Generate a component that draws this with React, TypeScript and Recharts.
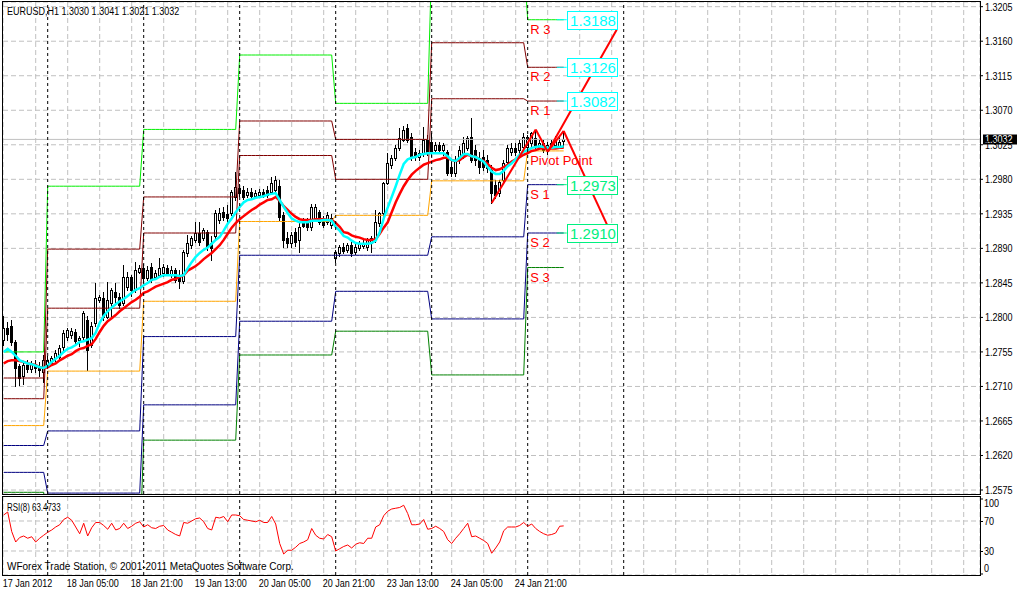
import React from "react";
import {
  Bar,
  CartesianGrid,
  ComposedChart,
  Line,
  ReferenceDot,
  ReferenceLine,
  XAxis,
  YAxis,
} from "recharts";

const SANS = "'Liberation Sans', Arial, sans-serif";
const SQUEEZE = 0.82; // terminal font is narrower than Arial

// EURUSD H1, 17 Jan 13:00 .. 25 Jan 09:00 (bar index 0..140)
const opens = [
  1.2771, 1.2786, 1.2789, 1.2768, 1.2737, 1.2724, 1.2738, 1.2733, 1.2739, 1.2734,
  1.2729, 1.2737, 1.274, 1.2747, 1.2748, 1.2761, 1.2774, 1.2777, 1.2781, 1.2771,
  1.2774, 1.2797, 1.2764, 1.2793, 1.2823, 1.2825, 1.2801, 1.2819, 1.2833, 1.2827,
  1.2819, 1.284, 1.2853, 1.2836, 1.2859, 1.2864, 1.2851, 1.2866, 1.2853, 1.2855,
  1.2858, 1.2864, 1.2855, 1.2862, 1.2854, 1.2848, 1.2884, 1.2894, 1.2901, 1.291,
  1.2904, 1.2911, 1.2897, 1.2906, 1.2927, 1.2937, 1.2935, 1.2936, 1.2957, 1.2969,
  1.2966, 1.296, 1.2963, 1.2958, 1.296, 1.2963, 1.2966, 1.2963, 1.2966, 1.2971,
  1.2933, 1.2904, 1.2897, 1.2911, 1.2901, 1.2924, 1.2924, 1.2918, 1.2929, 1.2937,
  1.2927, 1.2924, 1.292, 1.2878, 1.2884, 1.2892, 1.2888, 1.2894, 1.2885, 1.2891,
  1.2893, 1.2892, 1.2897, 1.2901, 1.2923, 1.2936, 1.2975, 1.2999, 1.3008, 1.3021,
  1.3031, 1.3047, 1.3035, 1.3016, 1.3009, 1.3014, 1.3031, 1.3029, 1.3018, 1.3025,
  1.3018, 1.3016, 1.2996, 1.2988, 1.3005, 1.3012, 1.3021, 1.3035, 1.3018, 1.3008,
  1.3009, 1.3005, 1.2992, 1.2973, 1.2962, 1.2979, 1.3003, 1.3016, 1.3021, 1.3018,
  1.3022, 1.3022, 1.3027, 1.3034, 1.3022, 1.3027, 1.3018, 1.3025, 1.3025, 1.3022,
  1.303,
];
const highs = [
  1.2802, 1.2794, 1.2797, 1.2771, 1.2739, 1.2742, 1.2744, 1.2743, 1.2744, 1.2742,
  1.2751, 1.275, 1.275, 1.2758, 1.2764, 1.2784, 1.2786, 1.2786, 1.2785, 1.2776,
  1.2808, 1.2802, 1.2794, 1.2845, 1.2829, 1.2833, 1.2846, 1.2838, 1.2845, 1.2832,
  1.2868, 1.2859, 1.2855, 1.2872, 1.2868, 1.287, 1.2867, 1.2871, 1.2862, 1.2878,
  1.287, 1.2868, 1.2867, 1.2864, 1.2862, 1.2888, 1.2907, 1.2906, 1.2924, 1.2924,
  1.2917, 1.2914, 1.2906, 1.294, 1.2943, 1.2944, 1.2947, 1.2966, 1.299, 1.2974,
  1.2971, 1.2969, 1.2969, 1.2966, 1.2967, 1.2967, 1.2971, 1.2983, 1.2984, 1.2979,
  1.2937, 1.2911, 1.2911, 1.2917, 1.2924, 1.2929, 1.2929, 1.2948, 1.2948, 1.294,
  1.2932, 1.2937, 1.2935, 1.2888, 1.2894, 1.2897, 1.2897, 1.2898, 1.2896, 1.29,
  1.2901, 1.2904, 1.2906, 1.294, 1.2937, 1.2977, 1.3014, 1.3012, 1.3025, 1.3047,
  1.3049, 1.3052, 1.304, 1.3021, 1.3018, 1.3048, 1.3038, 1.304, 1.3029, 1.3029,
  1.3027, 1.3018, 1.3005, 1.301, 1.3023, 1.3035, 1.3036, 1.306, 1.3025, 1.3016,
  1.3018, 1.3012, 1.2999, 1.2979, 1.2979, 1.3005, 1.3025, 1.3027, 1.3027, 1.3031,
  1.304, 1.3038, 1.3042, 1.3044, 1.3031, 1.3031, 1.3029, 1.3031, 1.3036, 1.3036,
  1.3041,
];
const lows = [
  1.2764, 1.2771, 1.2764, 1.2711, 1.2711, 1.2713, 1.2729, 1.2729, 1.2729, 1.2724,
  1.2716, 1.2734, 1.2738, 1.2744, 1.2744, 1.2758, 1.2771, 1.2773, 1.2767, 1.2763,
  1.2771, 1.2731, 1.2761, 1.2789, 1.282, 1.2797, 1.2799, 1.2802, 1.2816, 1.2813,
  1.2816, 1.2836, 1.2828, 1.2833, 1.2857, 1.2846, 1.2849, 1.2846, 1.285, 1.2853,
  1.2855, 1.2855, 1.2853, 1.2846, 1.2838, 1.2845, 1.288, 1.2891, 1.2898, 1.2894,
  1.2901, 1.2888, 1.2875, 1.2904, 1.2924, 1.2927, 1.2924, 1.2933, 1.2953, 1.2958,
  1.2954, 1.2957, 1.2956, 1.2956, 1.2957, 1.2956, 1.2957, 1.2961, 1.2963, 1.2927,
  1.2892, 1.2891, 1.2891, 1.2894, 1.2885, 1.2917, 1.2914, 1.2914, 1.2927, 1.2922,
  1.2918, 1.2922, 1.2917, 1.2872, 1.288, 1.2884, 1.2885, 1.288, 1.2883, 1.2888,
  1.2891, 1.2888, 1.2885, 1.2898, 1.2919, 1.2933, 1.2973, 1.2995, 1.3005, 1.3018,
  1.3029, 1.3029, 1.3005, 1.3005, 1.3005, 1.301, 1.3012, 1.301, 1.3016, 1.3016,
  1.3012, 1.2986, 1.2984, 1.2984, 1.3001, 1.3008, 1.3018, 1.3003, 1.2999, 1.2988,
  1.2992, 1.299, 1.2949, 1.2956, 1.2958, 1.2977, 1.2999, 1.3012, 1.3012, 1.3014,
  1.3018, 1.302, 1.3023, 1.3021, 1.302, 1.3016, 1.3014, 1.3021, 1.3021, 1.302,
  1.3021,
];
const closes = [
  1.2786, 1.2778, 1.2768, 1.2734, 1.2721, 1.2738, 1.2733, 1.2739, 1.2734, 1.2731,
  1.2744, 1.2744, 1.2747, 1.2754, 1.276, 1.278, 1.2784, 1.2782, 1.2769, 1.2773,
  1.2806, 1.2758, 1.2789, 1.2825, 1.2827, 1.2801, 1.2823, 1.2836, 1.2827, 1.2816,
  1.2853, 1.2853, 1.2836, 1.2862, 1.2864, 1.2851, 1.2862, 1.2849, 1.2858, 1.2864,
  1.2866, 1.2858, 1.2862, 1.2849, 1.2848, 1.2885, 1.2897, 1.2904, 1.291, 1.2898,
  1.2914, 1.2892, 1.2891, 1.2936, 1.2936, 1.2931, 1.2929, 1.2963, 1.297, 1.2962,
  1.2957, 1.2963, 1.2958, 1.2962, 1.2963, 1.296, 1.296, 1.2975, 1.2979, 1.2931,
  1.2901, 1.2897, 1.2907, 1.2898, 1.2918, 1.2919, 1.2918, 1.2944, 1.2944, 1.2924,
  1.292, 1.2933, 1.2929, 1.2885, 1.2892, 1.2887, 1.2894, 1.2884, 1.2892, 1.2897,
  1.2897, 1.2901, 1.2904, 1.2924, 1.2936, 1.2975, 1.3001, 1.3008, 1.3021, 1.3034,
  1.3044, 1.3031, 1.3009, 1.3009, 1.3014, 1.3031, 1.3014, 1.3016, 1.3025, 1.3018,
  1.3025, 1.2988, 1.2988, 1.3005, 1.3018, 1.3027, 1.3034, 1.3005, 1.3005, 1.2996,
  1.2996, 1.2995, 1.2962, 1.296, 1.2977, 1.3001, 1.3021, 1.3021, 1.3016, 1.3027,
  1.3035, 1.3035, 1.304, 1.3025, 1.3027, 1.3018, 1.3025, 1.3027, 1.3031, 1.3029,
  1.3032,
];
const fastMa = [
  1.2755, 1.2759, 1.2755, 1.275, 1.2744, 1.2742, 1.274, 1.2739, 1.2737, 1.2735,
  1.2734, 1.2737, 1.2742, 1.2746, 1.275, 1.2755, 1.2759, 1.2761, 1.2764, 1.2768,
  1.2769, 1.2771, 1.2773, 1.278, 1.2793, 1.2802, 1.2808, 1.2813, 1.2817, 1.2821,
  1.2824, 1.2828, 1.2832, 1.2836, 1.2838, 1.2842, 1.2845, 1.2849, 1.285, 1.2853,
  1.2855, 1.2855, 1.2855, 1.2855, 1.2854, 1.2855, 1.2864, 1.2872, 1.2879, 1.2884,
  1.2888, 1.2891, 1.2896, 1.2901, 1.2905, 1.2913, 1.2922, 1.2929, 1.2937, 1.2944,
  1.295, 1.2953, 1.2954, 1.2956, 1.2957, 1.2958, 1.296, 1.2961, 1.2962, 1.2953,
  1.2944, 1.2936, 1.2929, 1.2926, 1.2924, 1.2924, 1.2924, 1.2926, 1.2926, 1.2926,
  1.2927, 1.2927, 1.2926, 1.2918, 1.2913, 1.2906, 1.2904, 1.29, 1.2897, 1.2896,
  1.2896, 1.2896, 1.2897, 1.29, 1.2911, 1.2929, 1.2943, 1.2957, 1.2971, 1.2986,
  1.3, 1.3006, 1.3008, 1.3009, 1.3012, 1.3013, 1.3014, 1.3014, 1.3014, 1.3014,
  1.3014, 1.301, 1.3005, 1.3004, 1.3008, 1.3013, 1.3013, 1.301, 1.3009, 1.3006,
  1.3003, 1.2996, 1.299, 1.2987, 1.2987, 1.2991, 1.2997, 1.3001, 1.3006, 1.3012,
  1.3016, 1.3018, 1.3021, 1.3022, 1.3023, 1.3022, 1.3021, 1.3021, 1.3022, 1.3022,
  1.3023,
];
const slowMa = [
  1.274, 1.2743, 1.2744, 1.2744, 1.2743, 1.2742, 1.274, 1.2739, 1.2738, 1.2735,
  1.2734, 1.2735, 1.2738, 1.274, 1.2744, 1.2747, 1.275, 1.2752, 1.2756, 1.2759,
  1.276, 1.2763, 1.2765, 1.2772, 1.2781, 1.2789, 1.2795, 1.2799, 1.2803, 1.2808,
  1.2812, 1.2816, 1.282, 1.2823, 1.2827, 1.2832, 1.2834, 1.2837, 1.284, 1.2842,
  1.2844, 1.2846, 1.2849, 1.285, 1.2853, 1.2855, 1.2861, 1.2864, 1.2867, 1.2871,
  1.2876, 1.288, 1.2884, 1.2889, 1.2894, 1.2901, 1.2909, 1.2917, 1.2923, 1.2928,
  1.2932, 1.2936, 1.294, 1.2943, 1.2947, 1.295, 1.2953, 1.2954, 1.2957, 1.2952,
  1.2945, 1.294, 1.2935, 1.2931, 1.2928, 1.2927, 1.2927, 1.2927, 1.2928, 1.2928,
  1.2928, 1.2927, 1.2927, 1.2923, 1.2918, 1.2911, 1.291, 1.2907, 1.2905, 1.2904,
  1.2902, 1.2901, 1.2901, 1.2902, 1.2909, 1.2917, 1.2924, 1.2937, 1.295, 1.2961,
  1.2971, 1.2979, 1.2986, 1.2991, 1.2995, 1.2999, 1.3001, 1.3003, 1.3005, 1.3006,
  1.3008, 1.3008, 1.3005, 1.3004, 1.3005, 1.3009, 1.3012, 1.301, 1.3009, 1.3006,
  1.3004, 1.3, 1.2995, 1.2992, 1.2993, 1.2996, 1.2999, 1.3003, 1.3006, 1.3009,
  1.3012, 1.3014, 1.3017, 1.3018, 1.302, 1.302, 1.302, 1.302, 1.302, 1.3021,
  1.3021,
];
const rsi = [
  78, 82, 56, 42, 48, 50, 47, 49, 42, 47,
  51, 55, 58, 62, 65, 72, 75, 71, 62, 53,
  67, 50, 61, 68, 68, 64, 59, 67, 58, 60,
  67, 60, 63, 67, 69, 62, 65, 61, 60, 63,
  64, 58, 55, 52, 50, 68, 67, 70, 73, 74,
  69, 60, 58, 75, 74, 76, 69, 78, 78, 77,
  72, 71, 70, 69, 71, 68, 68, 76, 66, 40,
  26, 31, 31, 35, 40, 42, 45, 60, 51, 47,
  46, 52, 49, 30, 33, 36, 38, 34, 39, 41,
  40, 47, 47, 62, 65, 77, 83, 86, 87, 88,
  91, 80, 65, 65, 66, 72, 59, 60, 63, 60,
  56, 45, 40, 47, 53, 60, 67, 49, 50, 47,
  44, 40, 27, 34, 42, 57, 62, 62, 62, 64,
  68, 63, 66, 60, 56, 53, 51, 52, 54, 63,
  63.4733,
];

// daily pivot levels (first bar of each trading day)
const dayStarts = [0, 11, 35, 59, 83, 107, 131];
const r3 = [1.2755, 1.2971, 1.3045, 1.3142, 1.3079, 1.3266, 1.3188];
const r2 = [1.2721, 1.2889, 1.2957, 1.3056, 1.3032, 1.3158, 1.3126];
const r1 = [1.2694, 1.2812, 1.291, 1.3011, 1.298, 1.3085, 1.3082];
const pp = [1.2659, 1.273, 1.2821, 1.2925, 1.2933, 1.2978, 1.3017];
const s1 = [1.2633, 1.2652, 1.2775, 1.2881, 1.2881, 1.2905, 1.2973];
const s2 = [1.2598, 1.2571, 1.2686, 1.2795, 1.2834, 1.2798, 1.291];
const s3 = [1.2572, 1.2492, 1.264, 1.2751, 1.2782, 1.2725, 1.2865];

const zigzagBars = [122, 133, 136, 140, 151];
const zigzagPrices = [1.2949, 1.3045, 1.3016, 1.3043, 1.2919];
const projectionBars = [136, 153.25];
const projectionPrices = [1.3016, 1.3175];

const lastPrice = 1.3032;
const priceTicks = [
  1.2575, 1.262, 1.2665, 1.271, 1.2755, 1.28, 1.2845, 1.289, 1.2935, 1.298,
  1.3025, 1.307, 1.3115, 1.316, 1.3205,
];
const rsiTicks = [0, 30, 70, 100];
const rsiLevels = [30, 70];
const gridBars = [
  0, 8, 16, 24, 32, 40, 48, 56, 64, 72, 80, 88, 96, 104, 112, 120, 128, 136,
  144, 152, 160, 168, 176, 184, 192, 200, 208, 216, 224, 232, 240,
];
const separatorBars = [11, 35, 59, 83, 107, 131, 155];
const timeBars = [0, 16, 32, 48, 64, 80, 96, 112, 128];
const timeLabels = [
  "17 Jan 2012",
  "18 Jan 05:00",
  "18 Jan 21:00",
  "19 Jan 13:00",
  "20 Jan 05:00",
  "20 Jan 21:00",
  "23 Jan 13:00",
  "24 Jan 05:00",
  "24 Jan 21:00",
];

const X_DOMAIN: [number, number] = [-0.175, 244.075];
const PRICE_DOMAIN: [number, number] = [1.25698, 1.32111];
const RSI_DOMAIN: [number, number] = [-2, 103.33];

const levels = [
  { key: "r3", name: "R 3", values: r3, color: "#00ee00", box: "#00ffff" },
  { key: "r2", name: "R 2", values: r2, color: "#800000", box: "#00ffff" },
  { key: "r1", name: "R 1", values: r1, color: "#800000", box: "#00ffff" },
  { key: "pp", name: "Pivot Point", values: pp, color: "#ffa500", box: "" },
  { key: "s1", name: "S 1", values: s1, color: "#000080", box: "#00f080" },
  { key: "s2", name: "S 2", values: s2, color: "#000080", box: "#00f080" },
  { key: "s3", name: "S 3", values: s3, color: "#008000", box: "" },
];

function dayOf(i: number) {
  let d = 0;
  dayStarts.forEach((s, k) => {
    if (i >= s) d = k;
  });
  return d;
}

const rows = opens.map((o, i) => {
  const d = dayOf(i);
  const row: any = {
    i,
    o,
    h: highs[i],
    l: lows[i],
    c: closes[i],
    hl: [lows[i], highs[i]],
    fast: fastMa[i],
    slow: slowMa[i],
  };
  levels.forEach((lv) => {
    row[lv.key] = lv.values[d];
  });
  return row;
});

const rsiRows = rsi.map((v, i) => ({ i, v }));
const today = dayStarts.length - 1;

// text drawn in a squeezed Arial, like the terminal's narrow UI font
function Narrow({ x, y, size = 11, squeeze = SQUEEZE, fill = "#000", dy, children }: any) {
  return (
    <text
      transform={`translate(${x},${y}) scale(${squeeze},1)`}
      dy={dy}
      fontSize={size}
      fontFamily={SANS}
      fill={fill}
    >
      {children}
    </text>
  );
}

function Candle(props: any) {
  const { x, y, width, height, payload } = props;
  if (x == null || y == null || !payload) return null;
  const top = height < 0 ? y + height : y;
  const span = Math.abs(height);
  const { o, h, l, c } = payload;
  const k = h > l ? span / (h - l) : 0;
  const yo = top + (h - o) * k;
  const yc = top + (h - c) * k;
  const cx = Math.round(x + width / 2);
  const bTop = Math.round(Math.min(yo, yc));
  const bBot = Math.round(Math.max(yo, yc));
  const up = c >= o;
  return (
    <g shapeRendering="crispEdges">
      <rect x={cx} y={Math.round(top)} width={1} height={Math.round(span) + 1} fill="#000" />
      {up ? (
        <rect x={cx - 0.5} y={bTop + 0.5} width={2} height={Math.max(bBot - bTop, 1)} fill="#fff" stroke="#000" />
      ) : (
        <rect x={cx - 1} y={bTop} width={3} height={Math.max(bBot - bTop + 1, 1)} fill="#000" />
      )}
    </g>
  );
}

function PriceTick(props: any) {
  const { x, y, payload } = props;
  return (
    <Narrow x={x} y={y} dy="0.355em">
      {payload.value.toFixed(4)}
    </Narrow>
  );
}

function TimeTick(props: any) {
  const { x, y, payload } = props;
  return (
    <Narrow x={x - 1} y={y + 12}>
      {timeLabels[timeBars.indexOf(payload.value)]}
    </Narrow>
  );
}

function RsiTick(props: any) {
  const { x, y, payload } = props;
  const shift = payload.value === 100 ? 4.5 : payload.value === 0 ? -5.5 : 0;
  return (
    <g>
      <line x1={x - 3} x2={x} y1={y + 0.5} y2={y + 0.5} stroke="#000" />
      <Narrow x={x + 1} y={y + shift} dy="0.355em">
        {payload.value}
      </Narrow>
    </g>
  );
}

export default function App() {
  return (
    <div style={{ position: "absolute", left: 0, top: 0, width: 1018, height: 592, background: "#fff" }}>
      <div style={{ position: "absolute", left: 0, top: 0 }}>
        <ComposedChart width={1018} height={500} data={rows} margin={{ top: 2, right: 0, bottom: 6, left: 3 }}>
          <CartesianGrid stroke="#c0c0c0" strokeDasharray="5 3" />
          <XAxis type="number" dataKey="i" domain={X_DOMAIN} ticks={gridBars} allowDataOverflow hide />
          <YAxis
            orientation="right"
            domain={PRICE_DOMAIN}
            ticks={priceTicks}
            allowDataOverflow
            width={38}
            interval={0}
            tickSize={3}
            tickMargin={2}
            axisLine={false}
            tickLine={{ stroke: "#000" }}
            tick={<PriceTick />}
          />
          <ReferenceLine y={lastPrice} stroke="#c0c0c0" />
          {levels.map((lv) => (
            <Line
              key={lv.key}
              dataKey={lv.key}
              stroke={lv.color}
              strokeWidth={1}
              dot={false}
              activeDot={false}
              isAnimationActive={false}
            />
          ))}
          <Bar dataKey="hl" barSize={3} shape={Candle} isAnimationActive={false} />
          <Line dataKey="slow" stroke="#ff0000" strokeWidth={2.5} dot={false} activeDot={false} isAnimationActive={false} />
          <Line dataKey="fast" stroke="#00ffff" strokeWidth={2.5} dot={false} activeDot={false} isAnimationActive={false} />
          {separatorBars.map((b) => (
            <ReferenceLine key={b} x={b} stroke="#000" strokeDasharray="3 3" />
          ))}
          {zigzagBars.slice(1).map((b, k) => (
            <ReferenceLine
              key={"z" + b}
              segment={[
                { x: zigzagBars[k], y: zigzagPrices[k] },
                { x: b, y: zigzagPrices[k + 1] },
              ]}
              stroke="#ff0000"
              strokeWidth={2}
            />
          ))}
          <ReferenceLine
            segment={[
              { x: projectionBars[0], y: projectionPrices[0] },
              { x: projectionBars[1], y: projectionPrices[1] },
            ]}
            stroke="#ff0000"
            strokeWidth={2}
          />
          {levels
            .filter((lv) => lv.box)
            .map((lv) => (
              <ReferenceLine
                key={"c" + lv.key}
                segment={[
                  { x: 138.25, y: lv.values[today] },
                  { x: 140.75, y: lv.values[today] },
                ]}
                stroke={lv.box}
              />
            ))}
          {levels.map((lv) => (
            <ReferenceDot
              key={"t" + lv.key}
              x={dayStarts[today]}
              y={lv.values[today]}
              r={0}
              shape={(p: any) => (
                <text x={p.cx + 2.5} y={p.cy + 14} fontSize={13} fontFamily={SANS} fill="#ff0000">
                  {lv.name}
                </text>
              )}
            />
          ))}
          {levels
            .filter((lv) => lv.box)
            .map((lv) => (
              <ReferenceDot
                key={"b" + lv.key}
                x={140.75}
                y={lv.values[today]}
                r={0}
                shape={(p: any) => {
                  const cy = Math.round(p.cy);
                  return (
                    <g>
                      <rect
                        x={Math.round(p.cx) + 0.5}
                        y={cy - 8.5}
                        width={50}
                        height={18}
                        fill="#fff"
                        stroke={lv.box}
                        shapeRendering="crispEdges"
                      />
                      <text
                        x={Math.round(p.cx) + 26}
                        y={cy + 6}
                        fontSize={15}
                        fontFamily={SANS}
                        fill={lv.box}
                        textAnchor="middle"
                      >
                        {lv.values[today].toFixed(4)}
                      </text>
                    </g>
                  );
                }}
              />
            ))}
          <ReferenceDot
            x={X_DOMAIN[1]}
            y={lastPrice}
            r={0}
            ifOverflow="visible"
            shape={(p: any) => (
              <g>
                <rect x={Math.round(p.cx) + 3} y={Math.round(p.cy) - 4.5} width={34} height={10} fill="#000" />
                <Narrow x={Math.round(p.cx) + 5} y={p.cy} dy="0.355em" fill="#fff">
                  {lastPrice.toFixed(4)}
                </Narrow>
              </g>
            )}
          />
        </ComposedChart>
      </div>
      <div style={{ position: "absolute", left: 0, top: 496 }}>
        <ComposedChart width={1018} height={96} data={rsiRows} margin={{ top: 0, right: 0, bottom: 0, left: 3 }}>
          <XAxis xAxisId="grid" type="number" dataKey="i" domain={X_DOMAIN} ticks={gridBars} allowDataOverflow hide />
          <YAxis yAxisId="grid" orientation="right" domain={RSI_DOMAIN} ticks={rsiLevels} allowDataOverflow hide />
          <CartesianGrid xAxisId="grid" yAxisId="grid" stroke="#c0c0c0" strokeDasharray="5 3" />
          <XAxis
            type="number"
            dataKey="i"
            domain={X_DOMAIN}
            ticks={timeBars}
            allowDataOverflow
            height={17}
            interval={0}
            axisLine={false}
            tickLine={false}
            tickSize={0}
            tickMargin={0}
            tick={<TimeTick />}
          />
          <YAxis
            orientation="right"
            domain={RSI_DOMAIN}
            ticks={rsiTicks}
            allowDataOverflow
            width={38}
            interval={0}
            axisLine={false}
            tickLine={false}
            tickSize={1}
            tickMargin={2}
            tick={<RsiTick />}
          />
          {separatorBars.map((b) => (
            <ReferenceLine key={b} x={b} stroke="#000" strokeDasharray="3 3" />
          ))}
          <Line dataKey="v" stroke="#ff0000" strokeWidth={1} dot={false} activeDot={false} isAnimationActive={false} />
        </ComposedChart>
      </div>
      <svg
        width={1018}
        height={592}
        style={{ position: "absolute", left: 0, top: 0, pointerEvents: "none" }}
      >
        <g shapeRendering="crispEdges" fill="none" stroke="#000">
          <rect x={2.5} y={1.5} width={978} height={493} />
          <rect x={2.5} y={496.5} width={978} height={79} />
        </g>
        <Narrow x={7} y={14.5}>
          EURUSD,H1  1.3030 1.3041 1.3021 1.3032
        </Narrow>
        <Narrow x={7} y={511} size={11} squeeze={0.72}>
          RSI(8) 63.4733
        </Narrow>
        <text x={7} y={570} fontSize={10} fontFamily={SANS} fill="#000">
          WForex Trade Station, © 2001-2011 MetaQuotes Software Corp.
        </text>
      </svg>
    </div>
  );
}
